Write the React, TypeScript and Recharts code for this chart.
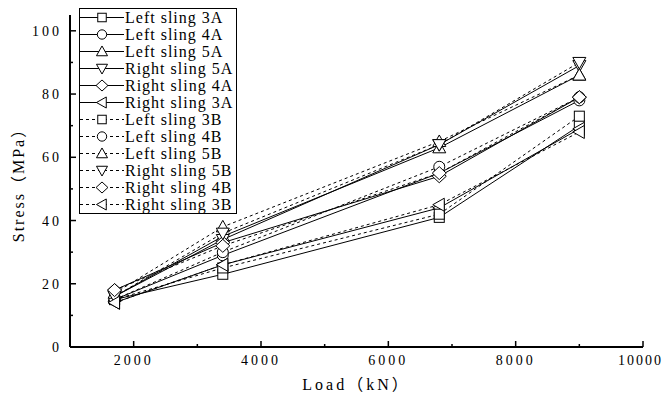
import { LineChart, Line, XAxis, YAxis, Legend } from "recharts";

const SERIF = "'Liberation Serif', 'Noto Sans CJK SC', serif";

const LOADS = [1700, 3400, 6800, 9000];

const LEFT_3A = [15, 23, 41, 70];
const LEFT_4A = [15, 29, 55, 78];
const LEFT_5A = [16, 35, 63, 86];
const RIGHT_5A = [16, 34, 64, 89];
const RIGHT_4A = [18, 33, 54, 79];
const RIGHT_3A = [14, 26, 44, 69];
const LEFT_3B = [15, 25, 42, 73];
const LEFT_4B = [15, 30, 57, 79];
const LEFT_5B = [17, 38, 65, 86];
const RIGHT_5B = [16, 36, 64, 90];
const RIGHT_4B = [18, 32, 55, 79];
const RIGHT_3B = [14, 26, 45, 68];

const X_TICKS = [2000, 3000, 4000, 5000, 6000, 7000, 8000, 9000, 10000];
const Y_TICKS = [0, 10, 20, 30, 40, 50, 60, 70, 80, 90, 100];

type Shape = "square" | "circle" | "up" | "down" | "diamond" | "left";

const SERIES: { key: string; name: string; shape: Shape; dashed: boolean; values: number[] }[] = [
  { key: "l3a", name: "Left sling 3A", shape: "square", dashed: false, values: LEFT_3A },
  { key: "l4a", name: "Left sling 4A", shape: "circle", dashed: false, values: LEFT_4A },
  { key: "l5a", name: "Left sling 5A", shape: "up", dashed: false, values: LEFT_5A },
  { key: "r5a", name: "Right sling 5A", shape: "down", dashed: false, values: RIGHT_5A },
  { key: "r4a", name: "Right sling 4A", shape: "diamond", dashed: false, values: RIGHT_4A },
  { key: "r3a", name: "Right sling 3A", shape: "left", dashed: false, values: RIGHT_3A },
  { key: "l3b", name: "Left sling 3B", shape: "square", dashed: true, values: LEFT_3B },
  { key: "l4b", name: "Left sling 4B", shape: "circle", dashed: true, values: LEFT_4B },
  { key: "l5b", name: "Left sling 5B", shape: "up", dashed: true, values: LEFT_5B },
  { key: "r5b", name: "Right sling 5B", shape: "down", dashed: true, values: RIGHT_5B },
  { key: "r4b", name: "Right sling 4B", shape: "diamond", dashed: true, values: RIGHT_4B },
  { key: "r3b", name: "Right sling 3B", shape: "left", dashed: true, values: RIGHT_3B },
];

const data = LOADS.map((load, i) => {
  const row: Record<string, number> = { load };
  SERIES.forEach((s) => (row[s.key] = s.values[i]));
  return row;
});

const DASH = "3 3";

function Marker({ cx, cy, shape, k = 1 }: { cx: number; cy: number; shape: Shape; k?: number }) {
  const p = { fill: "#fff", stroke: "#000", strokeWidth: 1 };
  const a = 6.5 * k;
  const b = 5 * k;
  switch (shape) {
    case "square":
      return <rect x={cx - b} y={cy - b} width={2 * b} height={2 * b} {...p} />;
    case "circle":
      return <circle cx={cx} cy={cy} r={5.5 * k} {...p} />;
    case "up":
      return <polygon points={`${cx},${cy - a} ${cx - a},${cy + b} ${cx + a},${cy + b}`} {...p} />;
    case "down":
      return <polygon points={`${cx},${cy + a} ${cx - a},${cy - b} ${cx + a},${cy - b}`} {...p} />;
    case "diamond":
      return <polygon points={`${cx},${cy - a} ${cx + 7 * k},${cy} ${cx},${cy + a} ${cx - 7 * k},${cy}`} {...p} />;
    default:
      return <polygon points={`${cx - a},${cy} ${cx + b},${cy - a} ${cx + b},${cy + a}`} {...p} />;
  }
}

const dotFor = (shape: Shape) => (props: any) => {
  if (props.cx == null || props.cy == null) return <g key={`${props.dataKey}-${props.index}`} />;
  return (
    <g key={`${props.dataKey}-${props.index}`}>
      <Marker cx={props.cx} cy={props.cy} shape={shape} />
    </g>
  );
};

function XTick({ x, y, payload }: any) {
  const major = payload.value % 2000 === 0;
  // last label sits at the window edge; keep it whole
  const last = payload.value === X_TICKS[X_TICKS.length - 1];
  return (
    <g>
      <line x1={x} x2={x} y1={y} y2={y - (major ? 6 : 3)} stroke="#000" strokeWidth={1.5} />
      {major && (
        <text
          x={last ? 663 : x}
          y={y + 18}
          textAnchor={last ? "end" : "middle"}
          fontFamily={SERIF}
          fontSize={14}
          letterSpacing={last ? 2 : 3}
          fill="#000"
        >
          {payload.value}
        </text>
      )}
    </g>
  );
}

function YTick({ x, y, payload }: any) {
  const major = payload.value % 20 === 0;
  return (
    <g>
      <line x1={x} x2={x + (major ? 6 : 3)} y1={y} y2={y} stroke="#000" strokeWidth={1.5} />
      {major && (
        <text x={x - 8} y={y + 5} textAnchor="end" fontFamily={SERIF} fontSize={14} letterSpacing={3} fill="#000">
          {payload.value}
        </text>
      )}
    </g>
  );
}

function LegendBox() {
  return (
    <div
      style={{
        border: "1px solid #000",
        background: "#fff",
        padding: "0 3px 0 0",
        fontFamily: SERIF,
        fontSize: 16,
        color: "#000",
      }}
    >
      {SERIES.map((s) => (
        <div key={s.key} style={{ display: "flex", alignItems: "center", height: 17 }}>
          <svg width={44} height={17} style={{ display: "block" }}>
            <line x1={0} x2={44} y1={8.5} y2={8.5} stroke="#000" strokeWidth={1} strokeDasharray={s.dashed ? DASH : undefined} />
            <Marker cx={22} cy={8.5} shape={s.shape} k={0.85} />
          </svg>
          <span style={{ letterSpacing: 1, marginLeft: 1, whiteSpace: "nowrap", lineHeight: "17px" }}>{s.name}</span>
        </div>
      ))}
    </div>
  );
}

export default function App() {
  return (
    <div style={{ position: "absolute", left: 0, top: 0, background: "#fff" }}>
      <LineChart width={665} height={393} data={data} margin={{ top: 15, right: 22, left: 0, bottom: 0 }}>
        <XAxis
          type="number"
          dataKey="load"
          domain={[1000, 10000]}
          ticks={X_TICKS}
          interval={0}
          height={46}
          tickLine={false}
          tickSize={0}
          tickMargin={0}
          tick={<XTick />}
          axisLine={{ stroke: "#000", strokeWidth: 2 }}
          label={{
            value: "Load（kN）",
            position: "insideBottom",
            offset: 3,
            style: { fontFamily: SERIF, fontSize: 16, letterSpacing: 3, fill: "#000" },
          }}
        />
        <YAxis
          type="number"
          domain={[0, 105]}
          ticks={Y_TICKS}
          interval={0}
          width={70}
          tickLine={false}
          tickSize={0}
          tickMargin={0}
          tick={<YTick />}
          axisLine={{ stroke: "#000", strokeWidth: 2 }}
          label={{
            value: "Stress（MPa）",
            angle: -90,
            position: "insideLeft",
            offset: 18,
            style: { textAnchor: "middle", fontFamily: SERIF, fontSize: 16, letterSpacing: 2, fill: "#000" },
          }}
        />
        <Legend
          layout="vertical"
          align="center"
          verticalAlign="middle"
          wrapperStyle={{ left: 79, top: 8, width: "auto" }}
          content={() => <LegendBox />}
        />
        {SERIES.map((s) => (
          <Line
            key={s.key}
            dataKey={s.key}
            name={s.name}
            stroke="#000"
            strokeWidth={1}
            strokeDasharray={s.dashed ? DASH : undefined}
            dot={dotFor(s.shape)}
            activeDot={false}
            isAnimationActive={false}
          />
        ))}
      </LineChart>
    </div>
  );
}
